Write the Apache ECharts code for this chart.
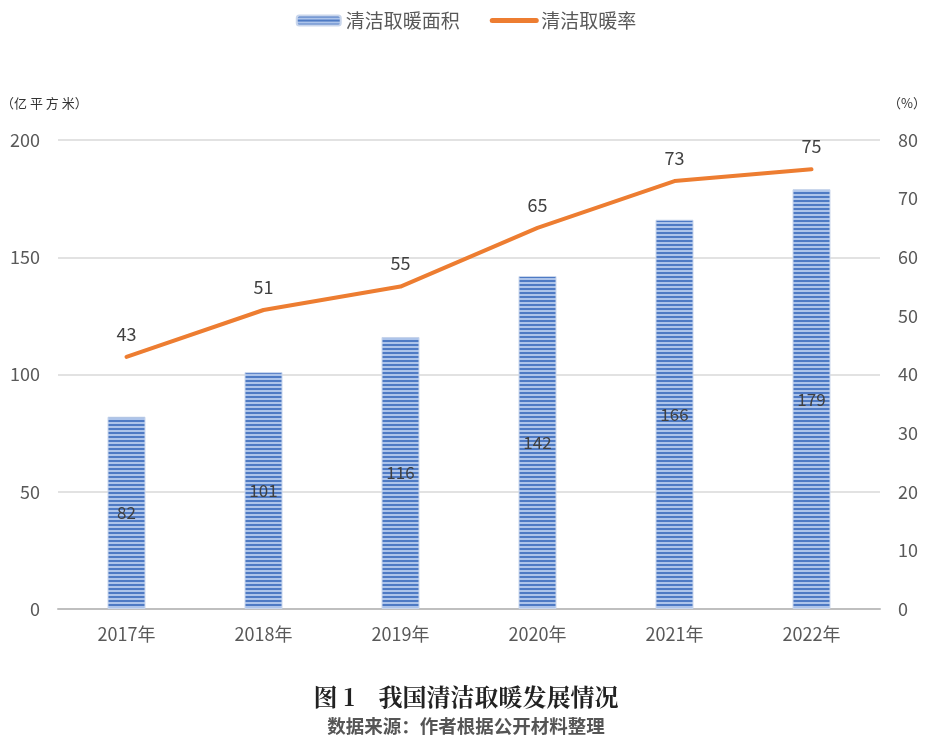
<!DOCTYPE html>
<html><head><meta charset="utf-8">
<script src="https://cdn.jsdelivr.net/npm/echarts@6/dist/echarts.min.js"></script>
<style>html,body{margin:0;padding:0;background:#fff}#c{width:932px;height:743px}</style>
</head><body><div id="c"></div>
<script>
const categories = ['2017年','2018年','2019年','2020年','2021年','2022年'];
const areaValues = [82, 101, 116, 142, 166, 179];
const rateValues = [43, 51, 55, 65, 73, 75];
const seriesNames = ['清洁取暖面积', '清洁取暖率'];

function stripe() {
  const c = document.createElement('canvas');
  c.width = 4; c.height = 4;
  const g = c.getContext('2d');
  g.fillStyle = '#ADC4EA'; g.fillRect(0,0,4,4);
  g.fillStyle = '#4E7AC4'; g.fillRect(0,0,4,2);
  return c;
}
const pat = { image: stripe(), repeat: 'repeat' };
const chart = echarts.init(document.getElementById('c'));
const font = '"Noto Sans CJK SC", "Noto Sans", sans-serif';
chart.setOption({
  animation: false,
  textStyle: { fontFamily: font },
  title: [
    { text: '图 1　我国清洁取暖发展情况', left: 'center', top: 680,
      textStyle: { fontFamily: '"Noto Serif CJK SC","Noto Sans CJK SC",serif', fontSize: 24, fontWeight: 'bold', color: '#222' } },
    { text: '数据来源：作者根据公开材料整理', left: 'center', top: 712,
      textStyle: { fontFamily: font, fontSize: 18.5, fontWeight: 'bold', color: '#555' } }
  ],
  legend: {
    top: 6, left: 'center', itemGap: 30, itemWidth: 44, itemHeight: 10,
    textStyle: { fontSize: 19, color: '#595959' },
    data: [
      { name: seriesNames[0], itemStyle: { color: pat } },
      { name: seriesNames[1], itemStyle: { opacity: 0 }, lineStyle: { width: 5, cap: 'round' } }
    ]
  },
  grid: { left: 58, right: 52, top: 140, bottom: 134, containLabel: false, outerBoundsMode: 'none' },
  xAxis: {
    type: 'category', data: categories,
    axisLine: { lineStyle: { color: '#BFBFBF', width: 2 } },
    axisTick: { show: false },
    axisLabel: { fontSize: 18, color: '#595959', margin: 16 }
  },
  yAxis: [
    { type: 'value', min: 0, max: 200, interval: 50,
      name: '（亿 平 方 米）', nameLocation: 'end', nameGap: 30,
      nameTextStyle: { fontSize: 13, color: '#333', align: 'left', padding: [0,0,0,-57] },
      axisLine: { show: false }, axisTick: { show: false },
      axisLabel: { fontSize: 18, color: '#595959', margin: 18 },
      splitLine: { lineStyle: { color: '#D9D9D9', width: 1.5 } } },
    { type: 'value', min: 0, max: 80, interval: 10,
      name: '（%）', nameLocation: 'end', nameGap: 30,
      nameTextStyle: { fontSize: 13, color: '#333', align: 'left', padding: [0,0,0,8] },
      axisLine: { show: false }, axisTick: { show: false },
      axisLabel: { fontSize: 18, color: '#595959', margin: 18 },
      splitLine: { show: false } }
  ],
  series: [
    { name: seriesNames[0], type: 'bar', data: areaValues, barWidth: 38, yAxisIndex: 0,
      itemStyle: { color: pat, borderColor: '#C9D6EC', borderWidth: 1 },
      label: { show: true, position: 'inside', fontSize: 17, color: '#404040' } },
    { name: seriesNames[1], type: 'line', data: rateValues, yAxisIndex: 1,
      symbol: 'circle', symbolSize: 0.1, showSymbol: true,
      lineStyle: { color: '#ED7D31', width: 4, cap: 'round' }, itemStyle: { color: '#ED7D31' },
      label: { show: true, position: 'top', distance: 14, fontSize: 18, color: '#404040' } }
  ]
});
</script></body></html>
